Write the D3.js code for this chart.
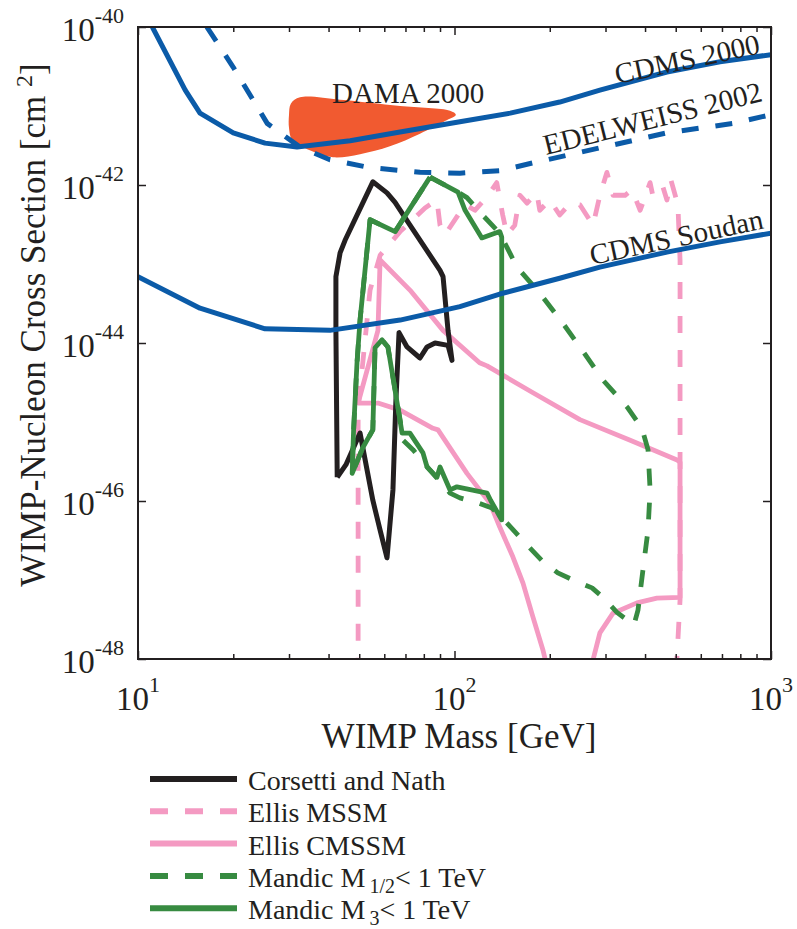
<!DOCTYPE html>
<html lang="en">
<head>
<meta charset="utf-8">
<script src="https://cdn.jsdelivr.net/npm/d3@7"></script>
<style>
  body { margin: 0; background: #fff; }
  text { font-family: "Liberation Serif", "Times New Roman", serif; fill: #231f20; }
</style>
</head>
<body>
<svg width="797" height="929"></svg>
<script>
// every curve point is [WIMP mass in GeV, log10 of cross section in cm^2]
var cdms2000 = [[11.1,-40.0],[14.1,-40.80],[15.7,-41.09],[20.0,-41.34],[25.2,-41.47],[31.8,-41.52],
  [46.8,-41.44],[67.3,-41.33],[104,-41.20],[150,-41.09],[215,-40.95],[288,-40.80],[469,-40.57],
  [690,-40.44],[1000,-40.35]];
var edelweiss2002 = [[16.5,-40.0],[20.0,-40.51],[25.6,-41.22],[32.5,-41.52],[40.4,-41.68],[54.1,-41.78],
  [77.8,-41.84],[104,-41.85],[139,-41.82],[177,-41.72],[288,-41.53],[469,-41.34],[759,-41.22],[1000,-41.11]];
var cdmsSoudan = [[10,-43.16],[15.7,-43.56],[25.2,-43.82],[40.4,-43.84],[67.3,-43.71],[104,-43.54],
  [139,-43.38],[215,-43.18],[288,-43.04],[469,-42.85],[690,-42.72],[1000,-42.61]];
var dama2000 = [[30.0,-41.11],[30.4,-40.97],[32.5,-40.89],[43.5,-40.92],[67.3,-41.00],[96.8,-41.06],
  [101,-41.11],[93.3,-41.19],[77.8,-41.35],[62.5,-41.51],[50.3,-41.61],[41.3,-41.65],[34.9,-41.56],
  [30.7,-41.43],[30.0,-41.28]];
var corsettiNath = [[42.6,-45.70],[42.2,-43.84],[42.2,-43.16],[43.5,-42.86],[45.1,-42.70],[55.2,-41.96],
  [61.2,-42.10],[64.9,-42.22],[71.3,-42.47],[90.0,-43.08],[92.0,-43.16],[95.4,-43.84],[98.2,-44.22],
  [95.4,-44.03],[86.8,-44.00],[81.9,-44.05],[77.8,-44.19],[70.8,-44.05],[66.8,-43.87],[65.3,-44.72],
  [63.9,-45.86],[61.2,-46.72],[58.2,-46.37],[55.2,-45.99],[50.3,-45.14],[45.4,-45.54],[42.6,-45.70]];
var ellisMSSM = [[49.6,-48.2],[49.6,-44.81],[51.4,-44.22],[54.1,-43.33],[58.2,-42.89],[67.3,-42.59],
  [80.7,-42.29],[88.0,-42.19],[90.0,-42.51],[93.3,-42.63],[102.6,-42.38],[108,-42.25],[116,-42.32],
  [126.7,-42.15],[136,-41.97],[142,-42.38],[146.5,-42.63],[155,-42.51],[161,-42.13],[169.5,-42.23],
  [182,-42.10],[186,-42.32],[200,-42.19],[215,-42.38],[232,-42.23],[249,-42.25],[274,-42.51],
  [288,-42.13],[303,-41.84],[317,-42.13],[346,-42.13],[364,-42.06],[386,-42.32],[415,-41.97],
  [424,-42.15],[456,-42.03],[469,-42.19],[483,-41.94],[508,-42.25],[516,-42.95],[516,-47.25],
  [508,-47.76],[501,-48.2]];
var ellisCMSSM = [[196,-48.1],[190.4,-47.89],[177,-47.47],[164.6,-47.04],[153,-46.71],[139,-46.33],
  [129.5,-46.03],[109.5,-45.65],[88.7,-45.10],[85.5,-45.08],[67.3,-44.85],[57.3,-44.76],[49.6,-44.76],
  [57.3,-43.84],[58.2,-42.95],[72.3,-43.33],[92,-43.84],[120,-44.25],[126.7,-44.29],[177,-44.63],
  [249,-44.97],[359,-45.23],[505,-45.48],[516,-45.51],[516,-47.22],[436,-47.23],[377,-47.29],
  [316.8,-47.42],[288,-47.67],[274,-48.01],[270,-48.2]];
var mandicHalf = [[83.7,-41.90],[102.6,-42.09],[109.5,-42.16],[118.7,-42.32],[139,-42.61],[157.6,-43.04],
  [186,-43.37],[220,-43.75],[253,-44.09],[294.6,-44.47],[350.8,-44.81],[391,-45.08],[408.7,-45.35],
  [415,-45.86],[408.7,-46.37],[394,-46.87],[380,-47.38],[369,-47.57],[326,-47.41],[294.6,-47.22],
  [272,-47.10],[237,-47.00],[212,-46.91],[190.4,-46.77],[161,-46.46],[146.5,-46.28],[131.4,-46.09],
  [120,-46.03],[104,-45.96],[96.8,-45.90],[83.7,-45.61],[73.9,-45.35],[68.8,-45.23],[67.3,-44.97],
  [61.6,-44.05],[59,-43.96],[56.1,-44.06],[55.2,-45.10],[51.4,-45.32],[47.5,-45.65],[48,-45.10],
  [49.2,-44.25],[50.3,-43.71],[54.1,-42.44],[64.9,-42.59],[83.7,-41.90]];
var mandicM3 = [[83.7,-41.90],[102.6,-42.09],[108,-42.32],[122,-42.67],[139,-42.59],[141,-42.66],
  [141,-46.24],[130,-45.99],[126.7,-45.90],[101.8,-45.82],[96.8,-45.86],[90,-45.57],[88,-45.70],
  [81.9,-45.57],[79.5,-45.39],[72.3,-45.14],[68.3,-45.14],[61.6,-44.05],[59,-43.96],[56.1,-44.06],
  [55.2,-45.10],[51.4,-45.32],[47.5,-45.65],[48,-45.10],[49.2,-44.25],[50.3,-43.71],[54.1,-42.44],
  [64.9,-42.59],[83.7,-41.90]];

var xMajor = [10, 100, 1000];
var xMinor = [20,30,40,50,60,70,80,90,200,300,400,500,600,700,800,900];
var yMajor = [-40, -42, -44, -46, -48];

var legendNames = ["Corsetti and Nath", "Ellis MSSM", "Ellis CMSSM", "Mandic M", "Mandic M"];
var legendSubs = ["", "", "", "1/2", "3"];
var legendTails = ["", "", "", "< 1 TeV", "< 1 TeV"];

var blue = "#0b5ba8", pink = "#f49ac2", green = "#378b41", black = "#231f20", orange = "#f15a30";

var svg = d3.select("svg");
var pLeft = 138, pRight = 771, pTop = 27, pBottom = 659;

var x = d3.scaleLog().domain([10, 1000]).range([pLeft, pRight]);
var y = d3.scaleLog().domain([1e-40, 1e-48]).range([pTop, pBottom]);

var line = d3.line()
  .x(function(d) { return x(d[0]); })
  .y(function(d) { return y(Math.pow(10, d[1])); });

svg.append("clipPath").attr("id", "plotclip")
  .append("rect").attr("x", pLeft).attr("y", pTop).attr("width", pRight - pLeft).attr("height", pBottom - pTop);

var plot = svg.append("g").attr("clip-path", "url(#plotclip)");

plot.append("path")
  .attr("d", line.curve(d3.curveCatmullRomClosed)(dama2000))
  .attr("fill", orange);
line.curve(d3.curveLinear);

function curve(data, color, dashed, width) {
  plot.append("path")
    .attr("d", line(data))
    .attr("fill", "none")
    .attr("stroke", color)
    .attr("stroke-width", width || 4.8)
    .attr("stroke-linejoin", "round")
    .attr("stroke-dasharray", dashed ? "17,17" : null);
}

curve(ellisMSSM, pink, true);
curve(ellisCMSSM, pink, false);
curve(corsettiNath, black, false, 5);
curve(mandicHalf, green, true);
curve(mandicM3, green, false);
curve(cdmsSoudan, blue, false, 5);
curve(edelweiss2002, blue, true, 5);
curve(cdms2000, blue, false, 5);

// ticks, pointing inward, on all four sides
function ticks(axis, tr) {
  var g = svg.append("g").attr("transform", tr).call(axis);
  g.select(".domain").remove();
  g.selectAll("line").attr("stroke", black).attr("stroke-width", 1.5);
  g.selectAll("text").remove();
}
ticks(d3.axisBottom(x).tickValues(xMinor).tickSize(-5), "translate(0," + pBottom + ")");
ticks(d3.axisBottom(x).tickValues(xMajor).tickSize(-8), "translate(0," + pBottom + ")");
ticks(d3.axisTop(x).tickValues(xMinor).tickSize(-5), "translate(0," + pTop + ")");
ticks(d3.axisTop(x).tickValues(xMajor).tickSize(-8), "translate(0," + pTop + ")");
var yTickVals = yMajor.map(function(e) { return Math.pow(10, e); });
ticks(d3.axisLeft(y).tickValues(yTickVals).tickSize(-8), "translate(" + pLeft + ",0)");
ticks(d3.axisRight(y).tickValues(yTickVals).tickSize(-8), "translate(" + pRight + ",0)");

svg.append("rect")
  .attr("x", pLeft).attr("y", pTop).attr("width", pRight - pLeft).attr("height", pBottom - pTop)
  .attr("fill", "none").attr("stroke", black).attr("stroke-width", 2);

// tick labels as 10^n
xMajor.forEach(function(v) {
  var t = svg.append("text").attr("x", x(v)).attr("y", 710)
    .attr("text-anchor", "middle").style("font-size", "33px");
  t.append("tspan").text("10");
  t.append("tspan").attr("dy", -18).style("font-size", "22px").text(Math.round(Math.log10(v)));
});
yMajor.forEach(function(e) {
  var t = svg.append("text").attr("x", 124).attr("y", y(Math.pow(10, e)) + 14)
    .attr("text-anchor", "end").style("font-size", "33px");
  t.append("tspan").text("10");
  t.append("tspan").attr("dy", -18).style("font-size", "22px").text(e);
});

svg.append("text").attr("x", 459).attr("y", 748).attr("text-anchor", "middle")
  .style("font-size", "35px").text("WIMP Mass [GeV]");

var yl = svg.append("text").attr("transform", "translate(45,325) rotate(-90)")
  .attr("text-anchor", "middle").style("font-size", "35px");
yl.append("tspan").text("WIMP-Nucleon Cross Section [cm ");
yl.append("tspan").attr("dy", -13).style("font-size", "24px").text("2");
yl.append("tspan").attr("dy", 13).text("]");

// curve annotations
function note(txt, px, py, angle) {
  svg.append("text").attr("transform", "translate(" + px + "," + py + ") rotate(" + angle + ")")
    .style("font-size", "29px").text(txt);
}
note("DAMA 2000", 332, 103, 0);
note("CDMS 2000", 617, 84, -12);
note("EDELWEISS 2002", 546, 155, -14);
note("CDMS Soudan", 592, 265, -12);

// legend
var legendStyle = [[black, false], [pink, true], [pink, false], [green, true], [green, false]];
legendNames.forEach(function(name, i) {
  var ly = 779 + i * 32.3;
  svg.append("line").attr("x1", 150).attr("x2", 237).attr("y1", ly).attr("y2", ly)
    .attr("stroke", legendStyle[i][0]).attr("stroke-width", 6)
    .attr("stroke-dasharray", legendStyle[i][1] ? "18,17" : null);
  var t = svg.append("text").attr("x", 248).attr("y", ly + 11).style("font-size", "28px");
  t.append("tspan").text(name);
  if (legendSubs[i]) {
    t.append("tspan").attr("dx", 4).attr("dy", 6).style("font-size", "20px").text(legendSubs[i]);
    t.append("tspan").attr("dy", -6).text(legendTails[i]);
  }
});
</script>
</body>
</html>
